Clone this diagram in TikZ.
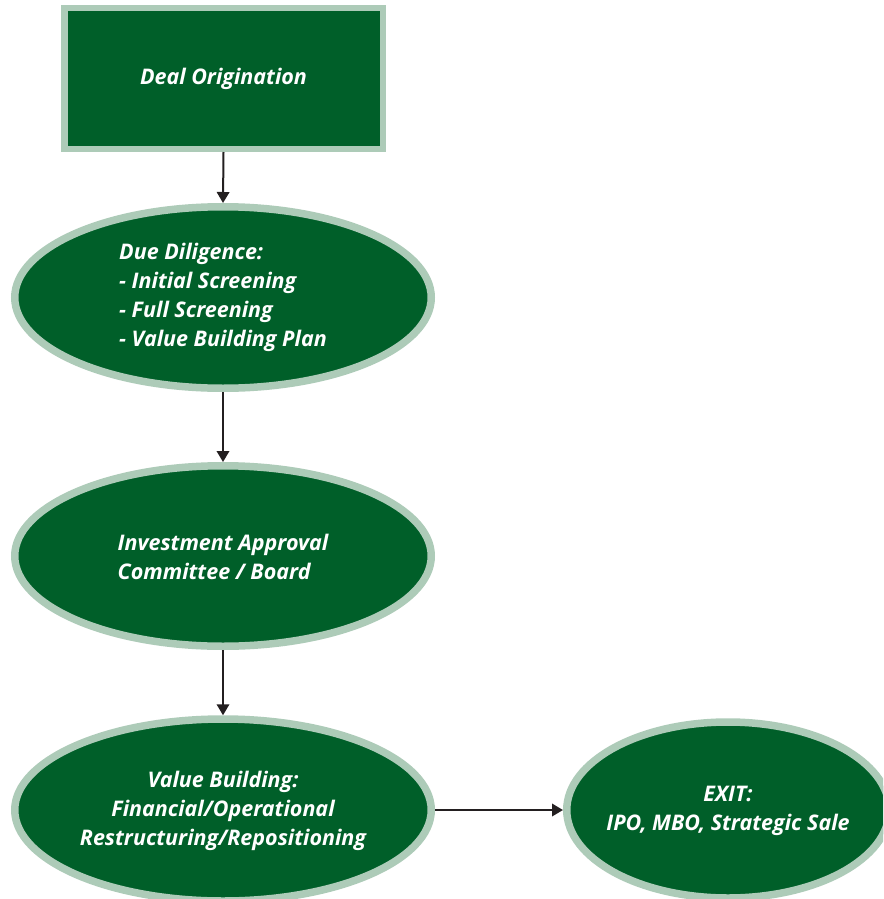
\documentclass[tikz,border=0pt]{standalone}
\usepackage{fontspec}
\setmainfont{Open Sans}
\usetikzlibrary{shapes.geometric,arrows.meta}
\definecolor{dgreen}{RGB}{0,95,41}
\definecolor{lgreen}{RGB}{173,203,184}
\definecolor{arrowc}{RGB}{35,31,32}
\tikzset{
  stage/.style={ellipse,draw=lgreen,fill=dgreen,line width=7.5pt,inner sep=0pt},
  startbox/.style={rectangle,draw=lgreen,fill=dgreen,line width=6.5pt,inner sep=0pt,
     minimum width=318.5pt,minimum height=140.5pt},
  txt/.style={text=white,font=\fontsize{21.5}{29}\selectfont\bfseries\itshape,inner sep=0pt},
  flow/.style={draw=arrowc,line width=2pt,-{Triangle[length=11pt,width=12.5pt]}}
}
\begin{document}
\begin{tikzpicture}[x=1pt,y=-1pt]
\useasboundingbox (0,0) rectangle (883,899);
\clip (0,0) rectangle (883,899);
\node[startbox] (orig) at (223.5,78.5) {};
\node[txt] (origt) at (orig.center) {Deal Origination};
\node[stage,minimum width=416.5pt,minimum height=181.5pt] (dd) at (223,297.5) {};
\node[txt,align=left] (ddt) at (dd.center) {Due Diligence:\\- Initial Screening\\- Full Screening\\- Value Building Plan};
\node[stage,minimum width=416.5pt,minimum height=180.5pt] (ia) at (223,556) {};
\node[txt,align=left] (iat) at ([yshift=-0.5pt]ia.center) {Investment Approval\\Committee / Board};
\node[stage,minimum width=416.5pt,minimum height=182pt] (vb) at (223,810) {};
\node[txt,align=center] (vbt) at ([yshift=-1pt]vb.center) {Value Building:\\Financial/Operational\\Restructuring/Repositioning};
\node[stage,minimum width=322.5pt,minimum height=176pt] (ex) at (728,810) {};
\node[txt,align=center] (ext) at ([yshift=-1pt]ex.center) {EXIT:\\IPO, MBO, Strategic Sale};
\draw[flow] (orig.south) -- (dd.north);
\draw[flow] (dd.south) -- (ia.north);
\draw[flow] (ia.south) -- (vb.north);
\draw[flow] (vb.east) -- (ex.west);
\end{tikzpicture}
\end{document}
